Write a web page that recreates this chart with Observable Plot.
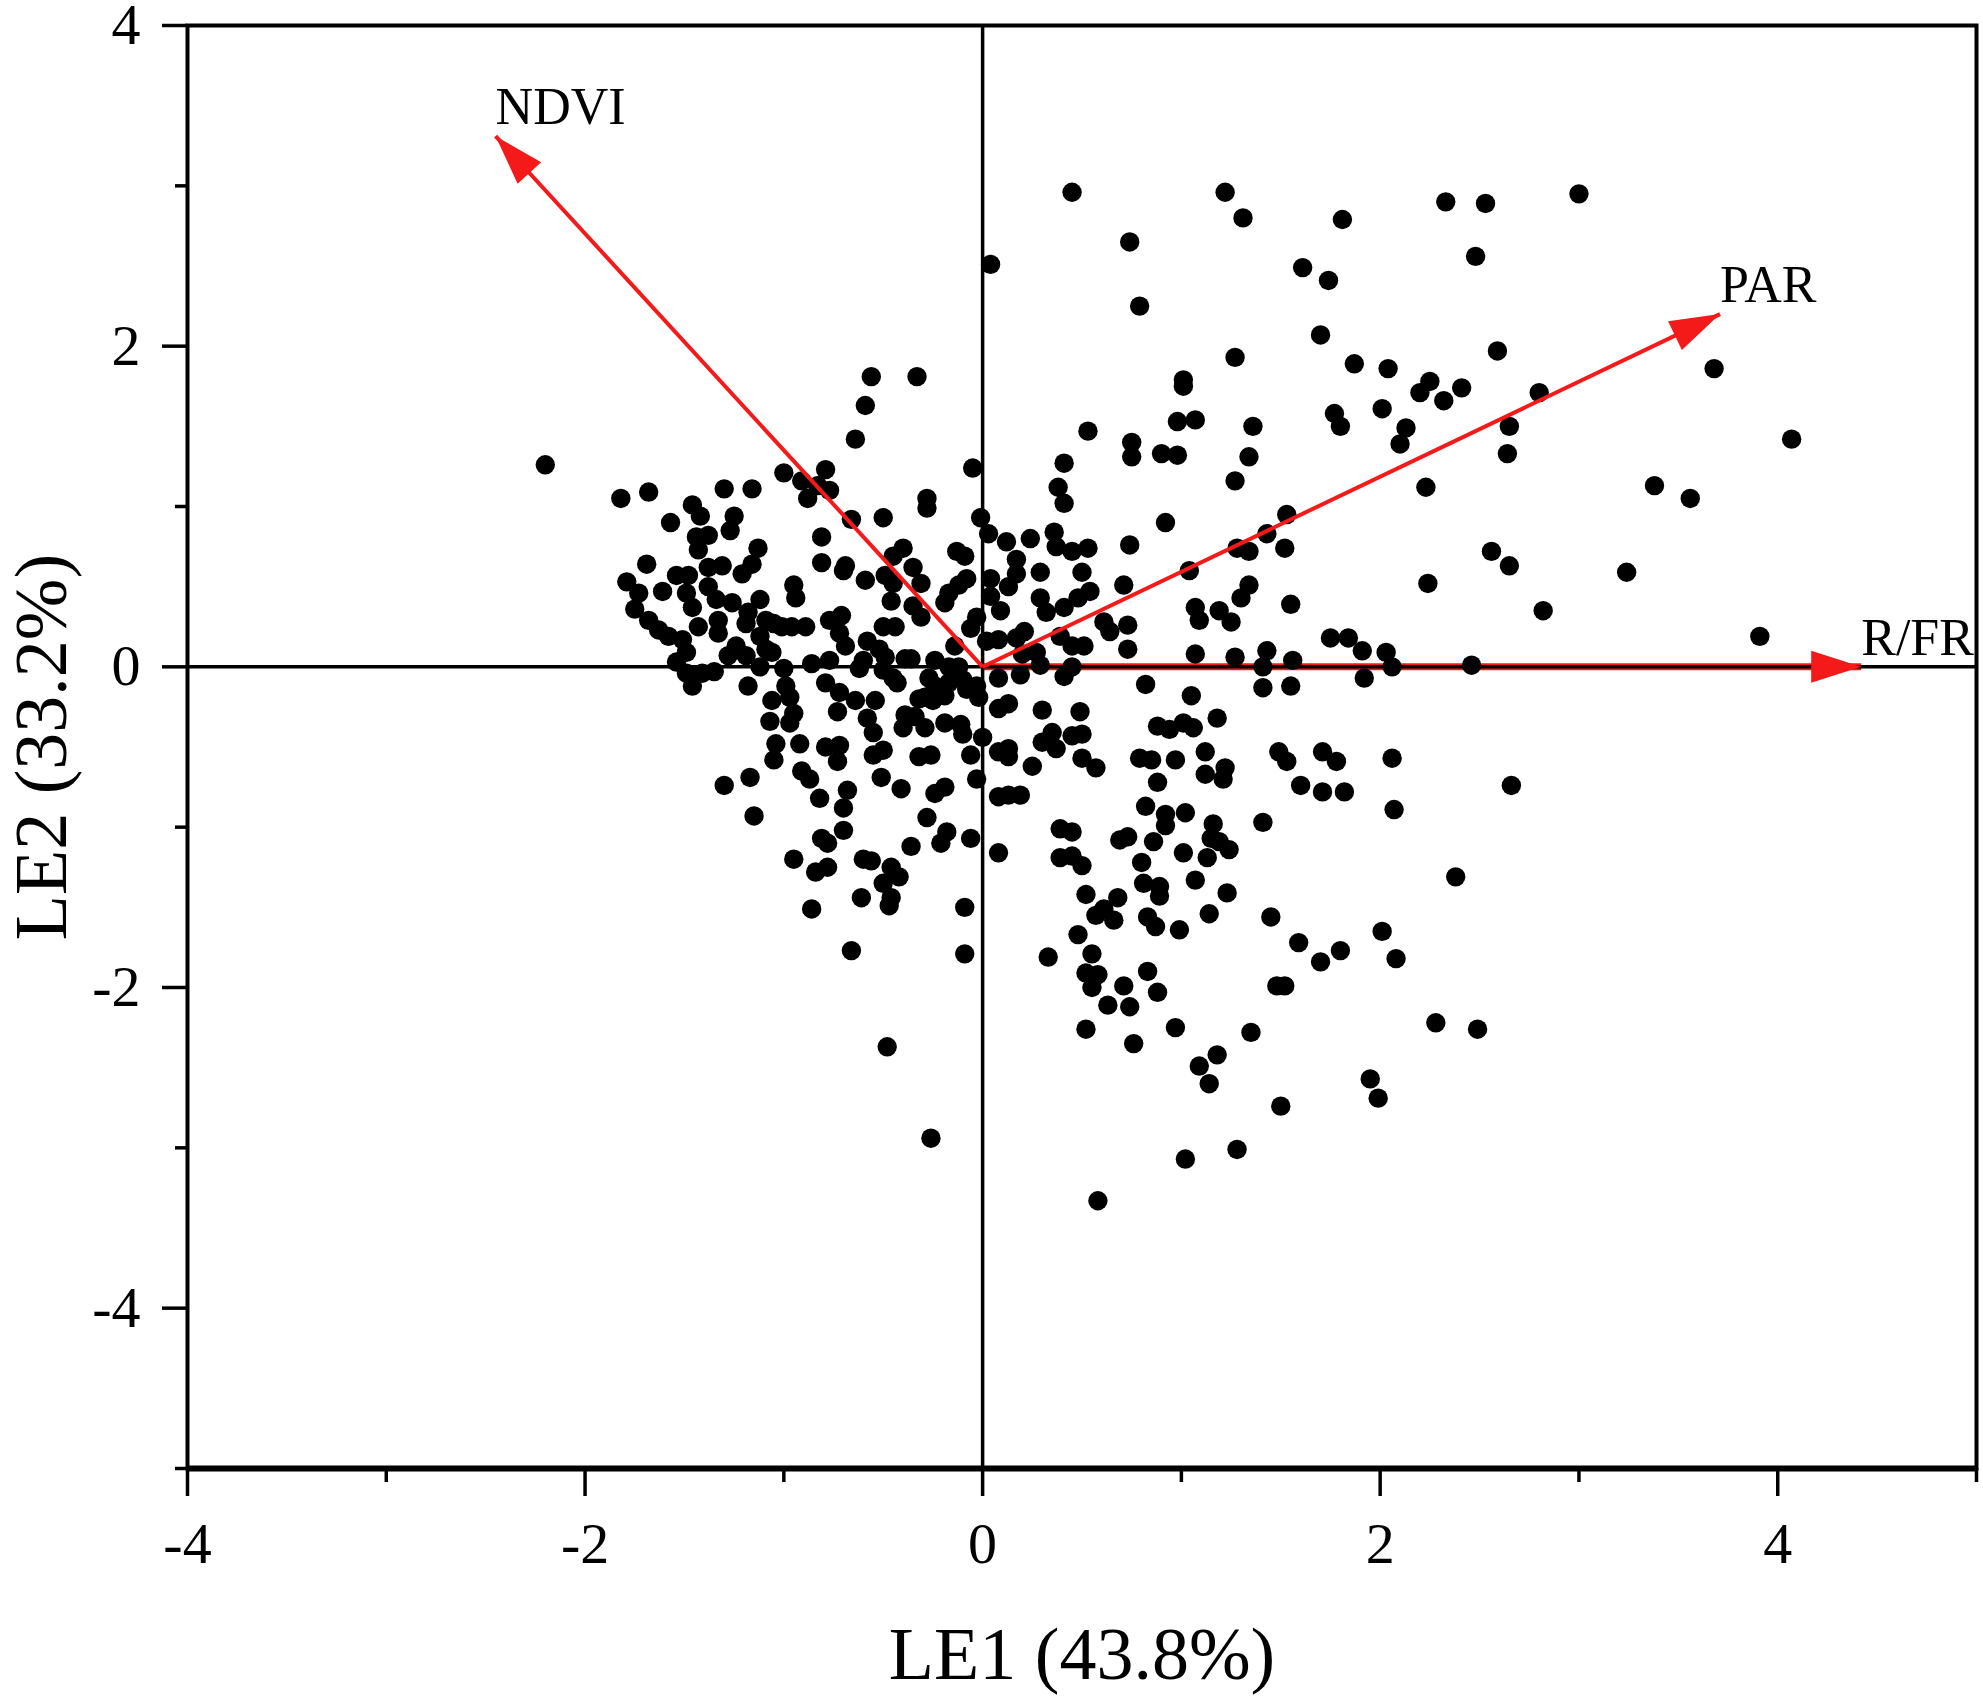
<!DOCTYPE html>
<html>
<head>
<meta charset="utf-8">
<script src="https://cdn.jsdelivr.net/npm/d3@7"></script>
<script src="https://cdn.jsdelivr.net/npm/@observablehq/plot@0.6"></script>
<style>
  html, body { margin: 0; padding: 0; background: #fff; overflow: hidden; }
</style>
</head>
<body>
<div id="chart"></div>
<script>
// ---- data ----
const xLabel = "LE1 (43.8%)";
const yLabel = "LE2 (33.2%)";
const xMajorTicks = [-4, -2, 0, 2, 4];
const xMinorTicks = [-3, -1, 1, 3, 5];
const yMajorTicks = [-4, -2, 0, 2, 4];
const yMinorTicks = [-5, -3, -1, 1, 3];

const arrowNames = ["NDVI", "PAR", "R/FR"];
const arrowX = [-2.45, 3.71, 4.42];
const arrowY = [3.31, 2.20, 0];

// sample scores [LE1, LE2]
const scores = [
[-2.20,1.26],[-1.82,1.05],[-1.68,1.09],[-1.30,1.11],[-1.16,1.11],[-1.46,1.01],[-1.42,0.94],[-1.57,0.90],[-1.25,0.94],[-1.27,0.85],
[-1.44,0.81],[-1.38,0.82],[-1.43,0.73],[-1.13,0.74],[-1.16,0.64],[-1.21,0.58],[-1.00,1.21],[-0.79,1.23],[-0.91,1.16],[-0.83,1.13],
[-0.77,1.10],[-0.88,1.05],[-0.66,0.92],[-0.64,1.42],[-0.81,0.81],[-0.81,0.65],[-0.70,0.60],[-1.69,0.64],[-1.79,0.53],[-1.73,0.46],
[-1.75,0.36],[-1.61,0.47],[-1.54,0.57],[-1.48,0.57],[-1.49,0.46],[-1.46,0.37],[-1.38,0.62],[-1.31,0.63],[-1.38,0.50],[-1.34,0.42],
[-1.26,0.40],[-1.33,0.29],[-1.33,0.21],[-1.43,0.25],[-1.68,0.29],[-1.63,0.23],[-1.58,0.19],[-1.51,0.17],[-1.49,0.09],[-1.54,0.03],
[-1.49,-0.04],[-1.46,-0.12],[-1.41,-0.04],[-1.35,-0.03],[-1.12,0.42],[-1.18,0.34],[-1.19,0.27],[-1.09,0.29],[-1.05,0.27],[-1.01,0.25],
[-0.96,0.25],[-0.89,0.25],[-1.12,0.19],[-1.09,0.11],[-1.24,0.13],[-1.28,0.07],[-1.19,0.07],[-1.12,0.00],[-1.06,0.09],[-1.18,-0.12],
[-1.00,-0.01],[-0.95,0.51],[-0.94,0.43],[-1.06,-0.21],[-0.99,-0.12],[-0.97,-0.19],[-1.07,-0.34],[-0.95,-0.29],[-0.97,-0.35],[-1.04,-0.48],
[-1.05,-0.58],[-0.92,-0.48],[-0.91,-0.65],[-0.87,-0.70],[-0.82,-0.82],[-0.70,-0.88],[-0.79,-0.50],[-0.72,-0.49],[-0.73,-0.59],[-1.30,-0.74],
[-1.17,-0.69],[-1.15,-0.93],[-0.86,0.02],[-0.77,0.04],[-0.79,-0.10],[-0.72,-0.16],[-0.73,-0.28],[-0.77,0.29],[-0.71,0.32],[-0.72,0.21],
[-0.69,0.13],[-0.69,0.63],[-0.68,-0.77],
[0.53,1.47],[0.75,1.40],[0.75,1.31],[0.90,1.33],[-0.05,1.24],[0.41,1.27],[0.38,1.12],[0.41,1.02],[-0.28,1.05],[-0.28,0.99],
[-0.50,0.93],[-0.01,0.93],[0.03,0.83],[0.12,0.78],[0.24,0.80],[0.36,0.84],[0.37,0.75],[0.17,0.67],[0.17,0.58],[0.45,0.72],
[0.53,0.74],[0.74,0.76],[-0.40,0.74],[-0.45,0.69],[-0.13,0.72],[-0.09,0.69],[-0.59,0.54],[-0.49,0.57],[-0.45,0.52],[-0.35,0.62],
[-0.31,0.52],[0.04,0.55],[0.13,0.50],[0.29,0.59],[0.50,0.59],[0.71,0.51],[-0.08,0.55],[-0.12,0.51],[-0.17,0.46],[-0.19,0.40],
[-0.46,0.41],[-0.35,0.38],[-0.31,0.31],[-0.50,0.25],[-0.44,0.25],[0.04,0.44],[0.09,0.35],[0.29,0.43],[0.32,0.34],[0.41,0.37],
[0.54,0.47],[0.48,0.43],[0.61,0.28],[0.64,0.22],[0.73,0.26],[0.73,0.11],[-0.03,0.31],[-0.06,0.24],[0.02,0.16],[0.08,0.17],
[0.17,0.18],[0.21,0.22],[0.27,0.09],[0.29,0.01],[0.20,0.08],[0.39,0.19],[0.45,0.13],[0.51,0.13],[0.45,0.00],[0.41,-0.06],
[0.19,-0.05],[-0.14,0.13],[-0.58,0.16],[-0.52,0.11],[-0.49,0.06],[-0.60,0.04],[-0.39,0.05],[-0.36,0.05],[-0.24,0.04],[-0.17,0.00],
[-0.12,0.00],[-0.62,-0.01],[-0.50,-0.02],[-0.45,-0.07],[-0.43,-0.10],[-0.27,-0.07],[-0.24,-0.12],[-0.29,-0.19],[-0.17,-0.10],[-0.10,-0.08],
[-0.08,-0.14],[-0.03,-0.12],[-0.02,-0.19],[0.08,-0.07],[-0.19,-0.18],[-0.32,-0.20],[-0.25,-0.21],[-0.64,-0.21],[-0.54,-0.21],[-0.58,-0.32],
[-0.55,-0.41],[-0.39,-0.30],[-0.34,-0.31],[-0.40,-0.38],[-0.29,-0.38],[-0.19,-0.35],[-0.11,-0.36],[-0.10,-0.42],[0.00,-0.44],[0.08,-0.26],
[0.13,-0.23],[0.30,-0.27],[0.49,-0.28],[0.35,-0.41],[0.30,-0.47],[0.45,-0.43],[0.50,-0.42],[0.37,-0.51],[0.82,-0.11],[0.88,-0.37],
[-0.55,-0.55],[-0.50,-0.52],[-0.32,-0.56],[-0.26,-0.55],[-0.06,-0.55],[0.08,-0.53],[0.13,-0.51],[0.13,-0.56],[0.25,-0.62],[0.50,-0.57],
[0.57,-0.63],[0.79,-0.57],[0.85,-0.58],[0.88,-0.72],[-0.51,-0.69],[-0.41,-0.76],[-0.24,-0.79],[-0.19,-0.75],[-0.03,-0.70],[0.08,-0.81],
[0.13,-0.80],[0.19,-0.80],[-0.28,-0.94],[0.82,-0.87],
[0.98,1.53],[1.07,1.54],[1.36,1.50],[1.80,1.50],[2.13,1.49],[2.10,1.39],[2.65,1.50],[2.64,1.33],[0.98,1.32],[1.34,1.31],
[1.27,1.16],[2.23,1.12],[0.92,0.90],[1.53,0.95],[1.43,0.83],[1.28,0.74],[1.34,0.72],[1.52,0.74],[2.56,0.72],[2.65,0.63],
[1.04,0.60],[2.24,0.52],[1.34,0.51],[1.30,0.43],[1.55,0.39],[1.07,0.37],[1.09,0.29],[1.19,0.35],[1.25,0.28],[1.75,0.18],
[1.84,0.18],[1.91,0.10],[2.03,0.09],[2.06,0.00],[1.07,0.08],[1.27,0.06],[1.43,0.10],[1.41,0.00],[1.56,0.04],[2.46,0.01],
[1.92,-0.07],[1.41,-0.13],[1.55,-0.12],[1.05,-0.18],[1.18,-0.32],[0.94,-0.39],[1.01,-0.35],[1.06,-0.38],[1.12,-0.53],[0.97,-0.58],
[1.49,-0.53],[1.53,-0.59],[1.71,-0.53],[1.78,-0.59],[2.06,-0.57],[1.12,-0.67],[1.22,-0.63],[1.21,-0.70],[1.60,-0.74],[1.71,-0.78],
[1.82,-0.78],[2.66,-0.74],[2.07,-0.89],[0.92,-0.92],[1.02,-0.91],
[0.45,2.96],[1.22,2.96],[1.31,2.80],[1.81,2.79],[0.74,2.65],[0.04,2.51],[1.61,2.49],[1.74,2.41],[0.79,2.25],[1.70,2.07],
[1.27,1.93],[-0.56,1.81],[-0.33,1.81],[-0.59,1.63],[1.01,1.79],[1.01,1.75],[1.77,1.58],
[2.33,2.90],[2.53,2.89],[3.00,2.95],[2.48,2.56],[2.59,1.97],[1.87,1.89],[2.04,1.86],[3.68,1.86],[2.25,1.78],[2.20,1.71],
[2.32,1.66],[2.41,1.74],[2.80,1.71],[2.01,1.61],[4.07,1.42],[3.38,1.13],[3.56,1.05],[3.24,0.59],[2.82,0.35],[3.91,0.19],
[-0.70,-1.02],[-0.18,-1.03],[-0.21,-1.10],[-0.06,-1.07],[0.08,-1.16],[-0.36,-1.12],[-0.60,-1.20],[-0.56,-1.21],[-0.46,-1.25],[-0.42,-1.31],
[-0.50,-1.35],[-0.46,-1.44],[-0.47,-1.49],[-0.61,-1.44],[-0.09,-1.50],[-0.66,-1.77],[-0.09,-1.79],[-0.48,-2.37],[-0.26,-2.94],[0.39,-1.01],
[0.45,-1.03],[0.39,-1.19],[0.45,-1.18],[0.50,-1.24],[0.92,-0.99],[1.16,-0.98],[1.15,-1.07],[1.19,-1.09],[1.24,-1.14],[1.13,-1.19],
[0.73,-1.06],[0.69,-1.08],[0.86,-1.09],[1.01,-1.16],[0.80,-1.22],[0.81,-1.35],[0.89,-1.37],[0.89,-1.43],[1.07,-1.33],[1.23,-1.41],
[1.14,-1.54],[0.52,-1.42],[0.68,-1.44],[0.61,-1.51],[0.57,-1.55],[0.66,-1.58],[0.83,-1.56],[0.87,-1.62],[0.99,-1.64],[0.48,-1.67],
[0.33,-1.81],[0.55,-1.79],[0.52,-1.91],[0.58,-1.92],[0.55,-2.00],[0.71,-1.99],[0.83,-1.90],[0.88,-2.03],[0.63,-2.11],[0.74,-2.12],
[0.52,-2.26],[0.97,-2.25],[0.76,-2.35],[1.18,-2.42],[1.09,-2.49],[1.14,-2.60],[1.28,-3.01],[1.02,-3.07],[0.58,-3.33],
[1.41,-0.97],[2.38,-1.31],[1.45,-1.56],[1.59,-1.72],[1.70,-1.84],[1.80,-1.77],[2.01,-1.65],[2.08,-1.82],[1.48,-1.99],[1.52,-1.99],
[1.35,-2.28],[2.28,-2.22],[2.49,-2.26],[1.95,-2.57],[1.99,-2.69],[1.50,-2.74],
[-0.81,-1.07],[-0.78,-1.10],[-0.95,-1.20],[-0.84,-1.28],[-0.78,-1.25],[-0.86,-1.51]
];

// ---- layout ----
const W = 1983, H = 1702;
const mL = 187, mR = 7, mT = 25, mB = 234;
const xDomain = [-4, 5], yDomain = [-5, 4];
const kx = (W - mL - mR) / (xDomain[1] - xDomain[0]);
const ky = (H - mT - mB) / (yDomain[1] - yDomain[0]);
const serif = "'Liberation Serif', 'Times New Roman', serif";
const red = "#f51a1a";

const arrows = arrowNames.map((name, i) => ({name, x: arrowX[i], y: arrowY[i]}));
const points = scores.map(([x, y]) => ({x, y}));

// filled triangular arrow head, tip at the anchor point, pointing up before rotation
const headSymbol = {
  draw(ctx) {
    const L = 50, Wd = 32;
    ctx.moveTo(0, 0);
    ctx.lineTo(-Wd / 2, L);
    ctx.lineTo(Wd / 2, L);
    ctx.closePath();
  }
};
const headAngle = d => Math.atan2(d.x * kx, d.y * ky) * 180 / Math.PI;

const chart = Plot.plot({
  width: W,
  height: H,
  marginLeft: mL,
  marginRight: mR,
  marginTop: mT,
  marginBottom: mB,
  style: {fontFamily: serif, color: "black", background: "white"},
  x: {domain: xDomain},
  y: {domain: yDomain},
  marks: [
    // R/FR shaft (under the black zero line)
    Plot.link(arrows.filter(d => d.y === 0), {x1: 0, y1: 0, x2: "x", y2: "y", stroke: red, strokeWidth: 7}),
    Plot.ruleX([0], {stroke: "black", strokeWidth: 3.5}),
    Plot.ruleY([0], {stroke: "black", strokeWidth: 3.5}),
    Plot.frame({stroke: "black", strokeWidth: 4}),
    Plot.ruleY([-5], {stroke: "black", strokeWidth: 6}),
    // axes
    Plot.axisX({ticks: xMajorTicks, tickSize: 28, tickPadding: 25, strokeWidth: 3.5,
      tickFormat: d => String(d), fontSize: 58, fontFamily: serif, label: null}),
    Plot.axisX({ticks: xMinorTicks, tickSize: 14, strokeWidth: 3.5, tickFormat: () => "", label: null}),
    Plot.axisY({ticks: yMajorTicks, tickSize: 25, tickPadding: 22, strokeWidth: 3.5,
      tickFormat: d => String(d), fontSize: 58, fontFamily: serif, label: null}),
    Plot.axisY({ticks: yMinorTicks, tickSize: 12, strokeWidth: 3.5, tickFormat: () => "", label: null}),
    // sample scores
    Plot.dot(points, {x: "x", y: "y", r: 9.7, fill: "black", stroke: "none"}),
    // loading arrows
    Plot.link(arrows.filter(d => d.y !== 0), {x1: 0, y1: 0, x2: "x", y2: "y", stroke: red, strokeWidth: 4}),
    Plot.dot(arrows, {x: "x", y: "y", symbol: headSymbol, r: 10, fill: red, stroke: "none", rotate: headAngle}),
    Plot.text(arrows, {x: "x", y: "y", text: "name", textAnchor: "start", lineAnchor: "bottom",
      dy: -12, fontSize: 52, fontFamily: serif, fill: "black"}),
    // axis titles
    Plot.text([xLabel], {text: d => d, frameAnchor: "bottom", dy: 187, lineAnchor: "middle",
      textAnchor: "middle", fontSize: 74, fontFamily: serif, fill: "black"}),
    Plot.text([yLabel], {text: d => d, frameAnchor: "left", dx: -145, rotate: -90, lineAnchor: "middle",
      textAnchor: "middle", fontSize: 74, fontFamily: serif, fill: "black"})
  ]
});
document.getElementById("chart").appendChild(chart);
</script>
</body>
</html>
